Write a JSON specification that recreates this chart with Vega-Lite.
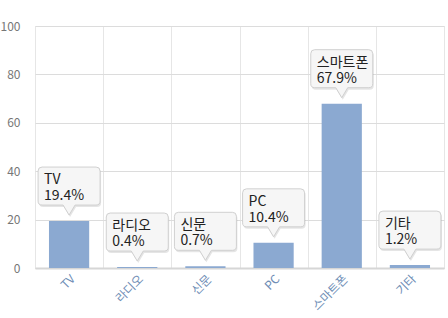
{
  "$schema": "https://vega.github.io/schema/vega-lite/v6.json",
  "width": 409,
  "height": 242,
  "autosize": "none",
  "padding": {"left": 35, "top": 26, "right": 4, "bottom": 50},
  "background": "white",
  "config": {"view": {"stroke": "#e6e6e6"}, "font": "Noto Sans CJK KR"},
  "data": {
    "values": [
      {"cat": "TV", "pct": 19.4},
      {"cat": "라디오", "pct": 0.4},
      {"cat": "신문", "pct": 0.7},
      {"cat": "PC", "pct": 10.4},
      {"cat": "스마트폰", "pct": 67.9},
      {"cat": "기타", "pct": 1.2}
    ]
  },
  "transform": [
    {"calculate": "datum.cat + '\\n' + format(datum.pct, '.1f') + '%'", "as": "label"}
  ],
  "encoding": {
    "x": {
      "field": "cat",
      "type": "nominal",
      "sort": null,
      "scale": {"paddingInner": 0, "paddingOuter": 0},
      "axis": {
        "title": null,
        "labelAngle": -45,
        "labelAlign": "right",
        "labelBaseline": "top",
        "labelPadding": 5,
        "ticks": false,
        "tickBand": "extent",
        "grid": true,
        "gridColor": "#e6e6e6",
        "domainColor": "#d6d6d6",
        "domainWidth": 2,
        "labelColor": "#6e8db5",
        "labelFontSize": 12
      }
    },
    "y": {
      "field": "pct",
      "type": "quantitative",
      "scale": {"domain": [0, 100], "nice": false},
      "axis": {
        "title": null,
        "values": [0, 20, 40, 60, 80, 100],
        "ticks": false,
        "domain": false,
        "labelPadding": 15,
        "gridColor": "#dcdcdc",
        "labelColor": "#777777",
        "labelFontSize": 12
      }
    }
  },
  "layer": [
    {"mark": {"type": "bar", "width": {"band": 0.59}, "color": "#8ba9d1"}},
    {
      "mark": {
        "type": "point",
        "shape": "M0,-0.1935L-0.1935,-0.5161H-0.871Q-1,-0.5161 -1,-0.6452V-1.6129Q-1,-1.7419 -0.871,-1.7419H0.871Q1,-1.7419 1,-1.6129V-0.6452Q1,-0.5161 0.871,-0.5161H0.1935Z",
        "size": 3844,
        "filled": true,
        "fill": "#000000",
        "fillOpacity": 0.1,
        "strokeWidth": 0,
        "opacity": 1,
        "xOffset": 1,
        "yOffset": 2
      }
    },
    {
      "mark": {
        "type": "point",
        "shape": "M0,-0.1935L-0.1935,-0.5161H-0.871Q-1,-0.5161 -1,-0.6452V-1.6129Q-1,-1.7419 -0.871,-1.7419H0.871Q1,-1.7419 1,-1.6129V-0.6452Q1,-0.5161 0.871,-0.5161H0.1935Z",
        "size": 3844,
        "filled": true,
        "fill": "#f6f6f6",
        "stroke": "#d0d0d0",
        "strokeWidth": 1,
        "opacity": 1
      }
    },
    {
      "mark": {
        "type": "text",
        "align": "left",
        "baseline": "alphabetic",
        "dx": -25,
        "dy": -37,
        "lineBreak": "\n",
        "lineHeight": 16,
        "fontSize": 14,
        "color": "#222222"
      },
      "encoding": {"text": {"field": "label"}}
    }
  ]
}
